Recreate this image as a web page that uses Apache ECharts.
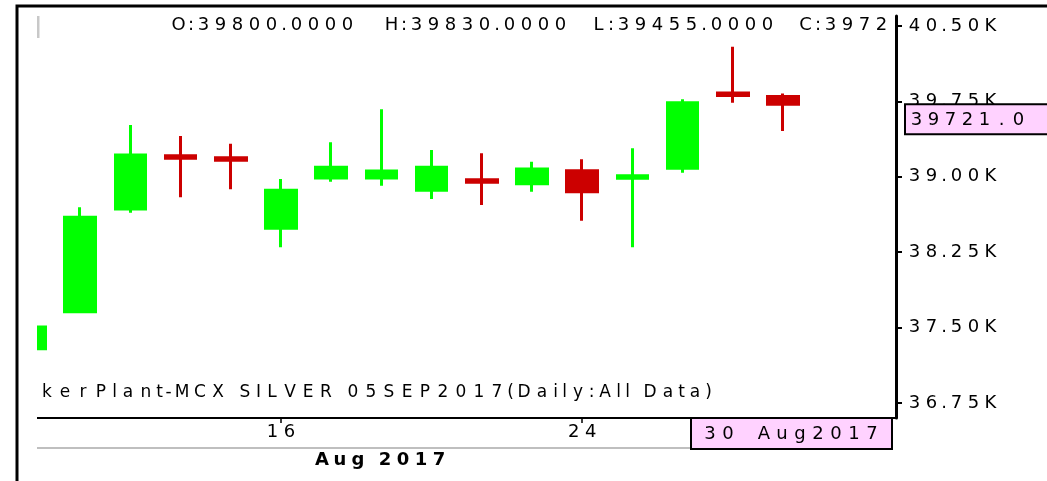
<!DOCTYPE html>
<html>
<head>
<meta charset="utf-8">
<script src="https://cdn.jsdelivr.net/npm/echarts@6/dist/echarts.min.js"></script>
<style>
  html, body { margin: 0; padding: 0; background: #fff; }
  #chart { width: 1047px; height: 481px; }
</style>
</head>
<body>
<div id="chart"></div>
<script>
// daily candles, MCX silver, Aug 2017
var dates  = ['08', '09', '10', '11', '14', '16', '17', '18', '21', '22', '23', '24', '25', '28', '29', '30'];
var opens  = [37290, 37658, 38680, 39210, 39190, 38488, 38988, 38988, 38867, 38970, 38931, 39061, 38985, 39085, 39835, 39800];
var closes = [37505, 38597, 39217, 39185, 39165, 38867, 39094, 39058, 39094, 38945, 39078, 38852, 39010, 39737, 39810, 39721];
var lows   = [37285, 37655, 38643, 38796, 38876, 38299, 38951, 38911, 38779, 38720, 38852, 38563, 38299, 39041, 39737, 39455];
var highs  = [37510, 38697, 39515, 39406, 39330, 38978, 39343, 39671, 39267, 39234, 39150, 39174, 39283, 39771, 40294, 39830];
var yTicks = [36750, 37500, 38250, 39000, 39750, 40500];
var xLabelDays = ['16', '24'];
var monthName = 'Aug';
var yearName = '2017';
var watermark = 'kerPlant-MCX SILVER 05SEP2017(Daily:All Data)';

var FONT = 'DejaVu Sans';
var narrow = '.:()-ilIt ';

// the source chart uses a very wide bitmap font, so each char gets its own cell
function wide(s) {
  return String(s).split('').map(function (ch) {
    return '{' + (narrow.indexOf(ch) >= 0 ? 'n' : 'c') + '|' + ch + '}';
  }).join('');
}
function mono(s) {
  return String(s).split('').map(function (ch) { return '{c|' + ch + '}'; }).join('');
}
function rich(size, cw, nw, color, weight) {
  var base = { fontSize: size, fontFamily: FONT, color: color, fontWeight: weight || 'normal', align: 'center' };
  return {
    c: Object.assign({ width: cw }, base),
    n: Object.assign({ width: nw }, base)
  };
}

var chart = echarts.init(document.getElementById('chart'));

var candles = dates.map(function (d, i) {
  return [i, opens[i], closes[i], lows[i], highs[i]];
});
var xLabelIdx = xLabelDays.map(function (d) { return dates.indexOf(d); });
var last = dates.length - 1;

var option = {
  animation: false,
  backgroundColor: '#fff',
  grid: { left: 37, right: 151, top: 16, bottom: 63 },
  xAxis: {
    type: 'value',
    min: 0.14,
    max: 17.25,
    splitLine: { show: false },
    axisLine: { show: true, onZero: false, lineStyle: { color: '#000', width: 2 } },
    axisTick: { show: true, length: 5, customValues: xLabelIdx, lineStyle: { color: '#000', width: 1.5 } },
    axisLabel: {
      customValues: xLabelIdx,
      margin: 5,
      formatter: function (v) { return wide(dates[v]); },
      rich: rich(18, 17, 8, '#000')
    }
  },
  yAxis: {
    type: 'value',
    position: 'right',
    min: 36600,
    max: 40600,
    splitLine: { show: false },
    axisLine: { show: true, onZero: false, lineStyle: { color: '#000', width: 3 } },
    axisTick: { show: true, length: 6, customValues: yTicks, lineStyle: { color: '#000', width: 2 } },
    axisLabel: {
      customValues: yTicks,
      margin: 10,
      formatter: function (v) { return wide((v / 1000).toFixed(2) + 'K'); },
      rich: rich(18, 17, 8, '#000')
    }
  },
  series: [{
    type: 'candlestick',
    data: candles,
    encode: { x: 0, y: [1, 2, 3, 4] },
    barWidth: 31,
    clip: true,
    itemStyle: {
      color: '#00ff00',
      color0: '#cc0000',
      borderColor: '#00ff00',
      borderColor0: '#cc0000',
      borderWidth: 3
    }
  }]
};
chart.setOption(option);

// header, watermark and value boxes
var closeY = chart.convertToPixel({ yAxisIndex: 0 }, closes[last]);
var hdr = rich(18, 17, 8, '#222');
var header = [
  ['O:' + opens[last].toFixed(4), 170],
  ['H:' + highs[last].toFixed(4), 383],
  ['L:' + lows[last].toFixed(4), 590],
  ['C:' + String(closes[last]).slice(0, 4), 797]   // cut off by the axis in the source
];

var graphics = [
  // candles left of the plot are cut in the source; normal candlestick mode does not clip
  { type: 'rect', shape: { x: 0, y: 7.5, width: 37, height: 412 }, style: { fill: '#fff' }, z: 90 },
  { type: 'rect', shape: { x: 17, y: 6, width: 1200, height: 600 }, style: { fill: 'none', stroke: '#000', lineWidth: 3 }, z: 100 },
  { type: 'line', shape: { x1: 38, y1: 16, x2: 38, y2: 38 }, style: { stroke: '#c8c8c8', lineWidth: 3 } },
  { type: 'line', shape: { x1: 37, y1: 448, x2: 691, y2: 448 }, style: { stroke: '#aaa', lineWidth: 1.5 } },
  {
    type: 'text', x: 38, y: 393,
    style: { text: wide(watermark), rich: rich(17, 18, 9, '#d8d8d8'), verticalAlign: 'middle' }
  },
  {
    type: 'text', x: 313, y: 460,
    style: { text: wide(monthName + ' ' + yearName), rich: rich(18, 18, 9, '#222', 'bold'), verticalAlign: 'middle' }
  },
  // date box under the axis
  {
    type: 'rect', z: 100,
    shape: { x: 691, y: 418, width: 201, height: 31 },
    style: { fill: '#ffd2ff', stroke: '#000', lineWidth: 2 }
  },
  {
    type: 'text', z: 101, x: 791, y: 434,
    style: { text: mono(dates[last] + ' ' + monthName + yearName), rich: rich(18, 18, 18, '#000'), align: 'center', verticalAlign: 'middle' }
  },
  // last close box on the price axis
  {
    type: 'rect', z: 100,
    shape: { x: 905, y: closeY, width: 200, height: 30 },
    style: { fill: '#ffd2ff', stroke: '#000', lineWidth: 2 }
  },
  {
    type: 'text', z: 101, x: 908, y: closeY + 16,
    style: { text: mono(closes[last].toFixed(1)), rich: rich(18, 17, 17, '#000'), verticalAlign: 'middle' }
  }
];
header.forEach(function (h) {
  graphics.push({
    type: 'text', x: h[1], y: 25,
    style: { text: wide(h[0]), rich: hdr, verticalAlign: 'middle' }
  });
});

chart.setOption({ graphic: graphics });
</script>
</body>
</html>
